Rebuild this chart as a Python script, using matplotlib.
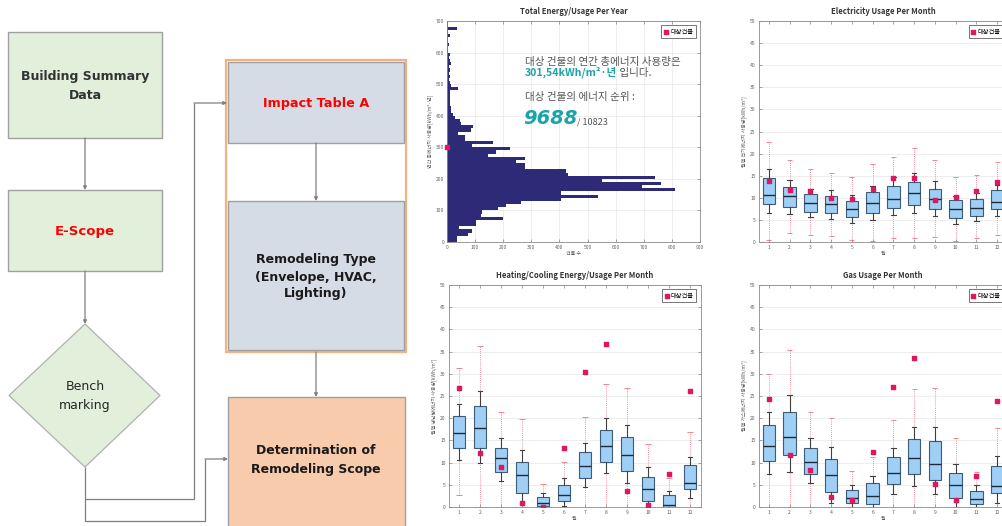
import matplotlib
matplotlib.use("Agg")
import matplotlib.pyplot as plt
from matplotlib.patches import Rectangle, Polygon
import numpy as np

plt.rcParams['font.family'] = ['Noto Sans CJK KR', 'DejaVu Sans']

# ---------------- data ----------------
months = list(range(1, 13))
month_labels = [str(m) for m in months]

# histogram of annual total energy use (bin lower edges, width 10)
energy_bins = list(range(0, 700, 10))
building_counts = [36, 36, 75, 89, 42, 104, 104, 199, 122, 126,
                   181, 211, 265, 405, 538, 407, 810, 692, 760, 553,
                   740, 431, 425, 277, 277, 245, 277, 146, 173, 223,
                   90, 164, 63, 63, 39, 87, 92, 51, 45, 27,
                   21, 15, 14, 12, 12, 10, 9, 10, 39, 15,
                   9, 8, 12, 7, 12, 8, 16, 10, 6, 9,
                   5, 4, 6, 5, 4, 12, 3, 35, 5, 2]
target_total = 301.54
target_rank = 9688
total_buildings = 10823

# Electricity
elec_q1 = [8.6, 7.9, 6.9, 6.6, 5.6, 6.6, 7.7, 8.3, 7.5, 5.4, 5.9, 7.5]
elec_med = [10.7, 10.3, 8.9, 8.5, 7.5, 8.8, 9.8, 11.0, 9.7, 7.5, 7.7, 9.0]
elec_q3 = [14.4, 12.4, 10.9, 10.4, 9.3, 11.2, 12.6, 13.6, 12.1, 9.4, 9.8, 11.8]
elec_wlo = [6.5, 6.4, 5.6, 5.2, 4.3, 5.0, 6.0, 6.5, 5.9, 4.1, 4.8, 5.8]
elec_whi = [16.5, 14.1, 12.0, 11.8, 10.6, 12.7, 14.6, 15.6, 13.8, 10.3, 11.1, 13.0]
elec_plo = [0.4, 2.0, 1.6, 1.3, 0.4, 0.2, 1.0, 1.0, 1.2, 0.2, 0.9, 1.5]
elec_phi = [22.6, 18.5, 16.5, 15.5, 14.6, 17.7, 19.2, 21.2, 18.5, 14.7, 15.1, 18.0]
elec_target = [13.9, 11.8, 11.6, 9.9, 9.8, 12.1, 14.4, 14.4, 9.6, 10.2, 11.6, 13.6]

# Heating / cooling
hc_q1 = [13.2, 13.4, 7.8, 3.2, 0.2, 1.4, 6.6, 10.2, 8.0, 1.3, 0.0, 4.0]
hc_med = [16.6, 17.8, 11.1, 7.1, 1.0, 2.7, 9.3, 13.8, 11.6, 4.0, 0.4, 5.5]
hc_q3 = [20.5, 22.7, 13.4, 10.2, 2.2, 5.0, 12.3, 17.4, 15.7, 6.8, 2.8, 9.4]
hc_wlo = [10.5, 9.9, 5.9, 1.0, 0.0, 0.3, 4.6, 7.6, 5.3, 0.2, 0.0, 2.1]
hc_whi = [23.3, 26.2, 15.5, 12.8, 3.1, 6.5, 14.4, 20.0, 18.5, 8.9, 3.7, 11.3]
hc_plo = [2.8, 0, 0, 0, 0, 0, 0, 0, 0, 0, 0, 0]
hc_phi = [31.2, 36.2, 21.4, 19.8, 5.1, 10.2, 20.3, 27.6, 26.7, 14.1, 6.5, 16.8]
hc_target = [26.9, 12.2, 8.9, 0.9, 0.1, 13.4, 30.3, 36.6, 3.6, 0.5, 7.4, 26.2]

# Gas
gas_q1 = [10.4, 11.6, 7.5, 3.4, 0.9, 0.7, 5.1, 7.4, 6.1, 2.1, 0.7, 3.2]
gas_med = [13.8, 15.8, 10.1, 7.1, 2.1, 2.5, 7.7, 11.1, 9.7, 4.9, 1.7, 4.8]
gas_q3 = [18.5, 21.5, 13.4, 10.8, 3.8, 5.3, 11.2, 15.3, 14.9, 7.7, 3.7, 9.2]
gas_wlo = [7.5, 7.8, 5.4, 1.0, 0.1, 0.0, 3.0, 4.7, 3.0, 0.1, 0.0, 1.0]
gas_whi = [21.5, 25.2, 15.6, 13.5, 5.0, 7.0, 13.4, 18.0, 18.1, 9.7, 5.0, 11.4]
gas_plo = [0, 0, 0, 0, 0, 0, 0, 0, 0, 0, 0, 0]
gas_phi = [30.0, 35.4, 21.5, 20.0, 8.0, 11.2, 19.7, 26.6, 26.9, 15.6, 7.9, 17.7]
gas_target = [24.3, 11.6, 8.4, 2.3, 1.5, 12.5, 27.0, 33.5, 5.1, 1.5, 7.0, 23.9]

# ---------------- figure ----------------
W, H = 1002, 526
fig = plt.figure(figsize=(W / 100, H / 100), dpi=100)
fig.patch.set_facecolor('white')


def px_axes(left, top, right, bottom):
    return fig.add_axes([left / W, 1 - bottom / H, (right - left) / W, (bottom - top) / H])


# ---------------- flowchart ----------------
fa = fig.add_axes([0, 0, 410 / W, 1])
fa.set_xlim(0, 410)
fa.set_ylim(526, 0)
fa.axis('off')

green = '#e2efda'
bluegray = '#d6dce5'
peach = '#f8cbad'
edge = '#a0a0a0'
arrow_c = '#7f7f7f'


def rect(x0, y0, x1, y1, fc, ec=edge, lw=1.0, z=1):
    fa.add_patch(Rectangle((x0, y0), x1 - x0, y1 - y0, facecolor=fc, edgecolor=ec, lw=lw, zorder=z))


def arrow(x0, y0, x1, y1):
    fa.annotate('', xy=(x1, y1), xytext=(x0, y0),
                arrowprops=dict(arrowstyle='-|>', color=arrow_c, lw=0.9,
                                mutation_scale=5, shrinkA=0, shrinkB=0))


def line(xs, ys):
    fa.plot(xs, ys, color=arrow_c, lw=0.9, solid_capstyle='butt')


rect(8, 32, 162, 138, green)
rect(8, 190, 162, 271, green)
fa.add_patch(Polygon([(85, 324), (160, 395.5), (85, 467), (9, 395.5)], closed=True,
                     facecolor=green, edgecolor='#b0b0b0', lw=0.9))
rect(226, 60, 406, 352, 'white', ec='#f4b183', lw=1.6, z=1)
rect(228, 62, 404, 143, bluegray, z=2)
rect(228, 201, 404, 350, bluegray, z=2)
rect(228, 397, 405, 535, peach, z=2)

arrow(85, 138, 85, 190)
arrow(85, 271, 85, 324)
arrow(316, 143, 316, 201)
arrow(316, 352, 316, 397)
line([85, 85, 205, 205], [467, 521, 521, 459])
arrow(205, 459, 228, 459)
line([85, 194, 194], [499, 499, 103])
arrow(194, 103, 227, 103)

ff = ['DejaVu Sans']
fa.text(85, 86, 'Building Summary\nData', ha='center', va='center', fontsize=9,
        fontweight='bold', color='#333333', linespacing=1.55, family=ff)
fa.text(85, 231, 'E-Scope', ha='center', va='center', fontsize=9.5, fontweight='bold',
        color='#ff0000', family=ff)
fa.text(85, 396, 'Bench\nmarking', ha='center', va='center', fontsize=9,
        color='#262626', linespacing=1.5, family=ff, fontweight='medium')
fa.text(316, 103, 'Impact Table A', ha='center', va='center', fontsize=9.2, fontweight='bold',
        color='#ff0000', family=ff, zorder=5)
fa.text(316, 277, 'Remodeling Type\n(Envelope, HVAC,\nLighting)', ha='center', va='center',
        fontsize=9, fontweight='bold', color='#1a1a1a', linespacing=1.4, family=ff, zorder=5)
fa.text(316, 460, 'Determination of\nRemodeling Scope', ha='center', va='center',
        fontsize=9, fontweight='bold', color='#1a1a1a', linespacing=1.5, family=ff, zorder=5)

# ---------------- chart styling helpers ----------------
tick_c = '#606060'
red_c = '#e0165e'
box_face = '#9fcff5'
box_edge = '#3d5c7a'


def style_axes(ax):
    for s in ax.spines.values():
        s.set_color('#8a8a8a')
        s.set_linewidth(0.6)
    ax.tick_params(direction='in', top=True, right=True, length=2, width=0.5,
                   labelsize=3.6, labelcolor=tick_c, color='#808080', pad=2)


def add_legend(ax):
    leg = ax.legend(loc='upper right', prop={'size': 4.5}, handlelength=0.7, handletextpad=0.3,
                    borderpad=0.4, markerscale=0.8, fancybox=False, framealpha=1,
                    edgecolor='#404040', borderaxespad=0.7)
    leg.get_frame().set_linewidth(0.5)


def box_panel(ax, title, ylabel, q1, med, q3, wlo, whi, plo, phi, target):
    stats = []
    for i in range(12):
        stats.append(dict(q1=q1[i], med=med[i], q3=q3[i], whislo=wlo[i], whishi=whi[i],
                          fliers=[], label=month_labels[i]))
    ax.vlines(months, whi, phi, colors='#f07080', linestyles=(0, (1, 1.5)), lw=0.6, zorder=1)
    ax.vlines(months, plo, wlo, colors='#f07080', linestyles=(0, (1, 1.5)), lw=0.6, zorder=1)
    m = np.array(months)
    ax.hlines(phi, m - 0.12, m + 0.12, colors='#f07080', lw=0.6, zorder=1)
    ax.hlines(plo, m - 0.12, m + 0.12, colors='#f07080', lw=0.6, zorder=1)
    ax.bxp(stats, positions=months, widths=0.6, patch_artist=True, showfliers=False,
           capwidths=0.22,
           boxprops=dict(facecolor=box_face, edgecolor=box_edge, lw=0.8),
           medianprops=dict(color='#1e2a38', lw=1.0),
           whiskerprops=dict(color='#404040', lw=0.8),
           capprops=dict(color='#404040', lw=0.8), zorder=2)
    ax.scatter(months, target, s=10, color=red_c, marker='s', zorder=4, label='대상건물')
    ax.set_xlim(0.5, 12.5)
    ax.set_ylim(0, 50)
    ax.set_yticks(range(0, 51, 5))
    ax.set_xticks(months)
    ax.set_xticklabels(month_labels)
    ax.grid(axis='y', color='#e6e6e6', lw=0.5, zorder=0)
    ax.set_axisbelow(True)
    style_axes(ax)
    ax.set_title(title, fontsize=5.5, fontweight='bold', color='#333333', pad=5)
    ax.set_ylabel(ylabel, fontsize=3.6, color=tick_c, labelpad=2)
    ax.set_xlabel('월', fontsize=3.6, color=tick_c, labelpad=1)
    add_legend(ax)


# ---------------- histogram ----------------
ah = px_axes(447, 21, 700, 242)
ah.barh(energy_bins, building_counts, height=10, align='edge', color='#2d2a78', lw=0, zorder=2)
ah.scatter([0], [target_total], marker='s', s=8, color=red_c, zorder=5, clip_on=False,
           label='대상건물')
ah.set_xlim(0, 900)
ah.set_ylim(0, 700)
ah.set_xticks(range(0, 901, 100))
ah.set_yticks(range(0, 701, 100))
ah.grid(True, color='#e6e6e6', lw=0.5, zorder=0)
ah.set_axisbelow(True)
style_axes(ah)
ah.set_title('Total Energy/Usage Per Year', fontsize=5.5, fontweight='bold', color='#333333', pad=5)
ah.set_ylabel('연간 총에너지 사용량[kWh/m²·년]', fontsize=3.6, color=tick_c, labelpad=2)
ah.set_xlabel('건물 수', fontsize=3.6, color=tick_c, labelpad=1)
add_legend(ah)

gray_t = '#555555'
teal = '#1ba3a8'
fs_txt = 7.6
ah.text(0.308, 0.814, '대상 건물의 연간 총에너지 사용량은', transform=ah.transAxes,
        fontsize=fs_txt, color=gray_t, va='center', ha='left')
t_val = ah.text(0.308, 0.768, f'{target_total:.2f}'.replace('.', ',') + 'kWh/m²·년',
                transform=ah.transAxes, fontsize=fs_txt, color=teal, fontweight='bold',
                va='center', ha='left')
ah.annotate(' 입니다.', xy=(1, 0), xycoords=t_val, fontsize=fs_txt, color=gray_t,
            va='bottom', ha='left')
ah.text(0.308, 0.657, '대상 건물의 에너지 순위 :', transform=ah.transAxes,
        fontsize=fs_txt, color=gray_t, va='center', ha='left')
t_rank = ah.text(0.300, 0.557, f'{target_rank}', transform=ah.transAxes, fontsize=14,
                 color=teal, fontweight='bold', style='italic', va='center', ha='left',
                 family=['DejaVu Sans'])
ah.annotate(f'/ {total_buildings}', xy=(1, 0.1), xycoords=t_rank, fontsize=6.5, color=gray_t,
            va='bottom', ha='left')

# ---------------- box panels ----------------
ae = px_axes(758.6, 21, 1007.4, 242)
box_panel(ae, 'Electricity Usage Per Month', '월별 전기에너지 사용량[kWh/m²]',
          elec_q1, elec_med, elec_q3, elec_wlo, elec_whi, elec_plo, elec_phi, elec_target)

ahc = px_axes(448.5, 285, 700.5, 507)
box_panel(ahc, 'Heating/Cooling Energy/Usage Per Month', '월별 냉난방에너지 사용량[kWh/m²]',
          hc_q1, hc_med, hc_q3, hc_wlo, hc_whi, hc_plo, hc_phi, hc_target)

ag = px_axes(758.6, 285, 1007.4, 507)
box_panel(ag, 'Gas Usage Per Month', '월별 가스에너지 사용량[kWh/m²]',
          gas_q1, gas_med, gas_q3, gas_wlo, gas_whi, gas_plo, gas_phi, gas_target)

fig.savefig('out.png', dpi=100)
